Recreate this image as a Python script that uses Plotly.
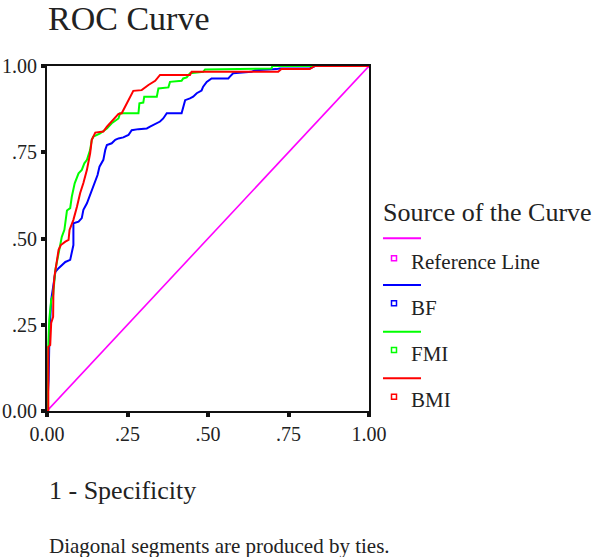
import plotly.graph_objects as go

# ---- data ----
ref_x = [0.0, 1.0]
ref_y = [0.0, 1.0]

bf_x = [0.0, 0.002, 0.005, 0.008, 0.010, 0.013, 0.018, 0.020, 0.026, 0.036, 0.041, 0.057, 0.072, 0.077,
        0.082, 0.082, 0.098, 0.108, 0.113, 0.124, 0.132, 0.136, 0.144, 0.157, 0.163, 0.175, 0.181, 0.186,
        0.201, 0.212, 0.222, 0.237, 0.253, 0.263, 0.284, 0.310, 0.320, 0.341, 0.351, 0.361, 0.372, 0.418,
        0.423, 0.429, 0.444, 0.454, 0.465, 0.480, 0.485, 0.496, 0.511, 0.563, 0.568, 0.578, 0.635, 0.646,
        0.713, 0.723, 0.816, 0.832, 1.0]
bf_y = [0.0, 0.041, 0.090, 0.243, 0.264, 0.322, 0.351, 0.365, 0.403, 0.414, 0.418, 0.432, 0.438, 0.461,
        0.481, 0.544, 0.549, 0.559, 0.583, 0.602, 0.621, 0.636, 0.655, 0.684, 0.708, 0.728, 0.757, 0.771,
        0.776, 0.786, 0.790, 0.793, 0.800, 0.814, 0.817, 0.819, 0.824, 0.834, 0.839, 0.848, 0.863, 0.863,
        0.882, 0.901, 0.906, 0.911, 0.921, 0.929, 0.940, 0.954, 0.964, 0.964, 0.969, 0.979, 0.983, 0.988,
        0.991, 0.993, 0.993, 1.0, 1.0]

fmi_x = [0.0, 0.002, 0.004, 0.007, 0.013, 0.019, 0.026, 0.036, 0.043, 0.046, 0.054, 0.062, 0.072, 0.077,
         0.086, 0.098, 0.108, 0.116, 0.124, 0.134, 0.139, 0.144, 0.165, 0.186, 0.201, 0.222, 0.227, 0.284,
         0.287, 0.299, 0.302, 0.341, 0.346, 0.377, 0.382, 0.418, 0.423, 0.434, 0.444, 0.485, 0.491, 0.697,
         0.700, 1.0]
fmi_y = [0.0, 0.032, 0.190, 0.264, 0.322, 0.336, 0.409, 0.457, 0.486, 0.505, 0.525, 0.581, 0.588, 0.621,
         0.660, 0.689, 0.699, 0.718, 0.728, 0.757, 0.786, 0.795, 0.805, 0.819, 0.834, 0.848, 0.863, 0.863,
         0.892, 0.894, 0.911, 0.911, 0.935, 0.938, 0.954, 0.957, 0.964, 0.967, 0.979, 0.983, 0.990, 0.993,
         1.0, 1.0]

bmi_x = [0.0, 0.004, 0.004, 0.010, 0.013, 0.019, 0.020, 0.023, 0.036, 0.043, 0.057, 0.067, 0.070, 0.074,
         0.082, 0.093, 0.103, 0.113, 0.124, 0.134, 0.139, 0.150, 0.175, 0.186, 0.201, 0.222, 0.232, 0.248,
         0.258, 0.268, 0.294, 0.315, 0.336, 0.351, 0.444, 0.449, 0.718, 0.728, 0.816, 0.832, 1.0]
bmi_y = [0.0, 0.0, 0.186, 0.191, 0.255, 0.273, 0.351, 0.389, 0.467, 0.481, 0.491, 0.496, 0.525, 0.534,
         0.554, 0.592, 0.632, 0.661, 0.699, 0.747, 0.786, 0.807, 0.810, 0.824, 0.839, 0.861, 0.863, 0.892,
         0.911, 0.928, 0.930, 0.945, 0.957, 0.974, 0.974, 0.983, 0.983, 0.991, 0.991, 1.0, 1.0]

series_names = ["Reference Line", "BF", "FMI", "BMI"]
series_colors = ["#FF00FF", "#0000FF", "#00FF00", "#FF0000"]
tick_vals = [0, 0.25, 0.5, 0.75, 1.0]
tick_text = ["0.00", ".25", ".50", ".75", "1.00"]

# ---- layout geometry ----
W, H = 600, 557
X0, X1, Y0, Y1 = 47, 369, 411, 66  # plot area pixel edges


def px2x(px):
    return (px - X0) / (X1 - X0)


def py2y(py):
    return (Y0 - py) / (Y0 - Y1)


FONT = "Liberation Serif"

fig = go.Figure()
all_x = [ref_x, bf_x, fmi_x, bmi_x]
all_y = [ref_y, bf_y, fmi_y, bmi_y]
widths = [1.6, 2, 2, 2]
for xs, ys, name, col, w in zip(all_x, all_y, series_names, series_colors, widths):
    fig.add_trace(go.Scatter(x=xs, y=ys, mode="lines", name=name,
                             line=dict(color=col, width=w), showlegend=False,
                             cliponaxis=False, hoverinfo="skip"))

axis_common = dict(range=[0, 1], tickvals=tick_vals, ticktext=tick_text, showgrid=False,
                   zeroline=False, showline=True, linecolor="#111", linewidth=2, mirror=True,
                   ticks="outside", ticklen=4, tickwidth=4, tickcolor="#111", automargin=False,
                   tickfont=dict(family=FONT, size=20, color="#222"))
fig.update_xaxes(**axis_common)
fig.update_yaxes(**axis_common)

annotations = [
    dict(text="ROC Curve", x=px2x(46), y=py2y(19), size=34),
    dict(text="Source of the Curve", x=px2x(381), y=py2y(212), size=26),
    dict(text="1 - Specificity", x=px2x(47), y=py2y(490), size=26),
    dict(text="Diagonal segments are produced by ties.", x=px2x(47), y=py2y(546), size=21),
]
legend_line_y = [238.3, 285, 331.7, 378.3]
legend_mark_y = [258.3, 303.3, 350, 396.7]
legend_text_y = [262, 308.3, 353.7, 400]
shapes = []
for name, col, ly, my, ty in zip(series_names, series_colors, legend_line_y, legend_mark_y, legend_text_y):
    annotations.append(dict(text=name, x=px2x(409), y=py2y(ty), size=21))
    shapes.append(dict(type="line", xref="paper", yref="paper", x0=px2x(383), x1=px2x(421),
                       y0=py2y(ly), y1=py2y(ly), line=dict(color=col, width=2)))
    shapes.append(dict(type="rect", xref="paper", yref="paper", x0=px2x(391.5), x1=px2x(396.5),
                       y0=py2y(my + 2.5), y1=py2y(my - 2.5), line=dict(color=col, width=1.5)))

fig.update_layout(
    width=W, height=H, autosize=False,
    margin=dict(l=X0, r=W - X1, t=Y1, b=H - Y0, pad=0, autoexpand=False),
    paper_bgcolor="white", plot_bgcolor="white",
    showlegend=False,
    hovermode=False,
    shapes=shapes,
    annotations=[dict(text=a["text"], x=a["x"], y=a["y"], xref="paper", yref="paper",
                      xanchor="left", yanchor="middle", showarrow=False,
                      font=dict(family=FONT, size=a["size"], color="#222")) for a in annotations],
)

fig.write_html("out.html", config={"displayModeBar": False},
               post_script="document.body.style.margin='0';document.body.style.overflow='hidden';")
